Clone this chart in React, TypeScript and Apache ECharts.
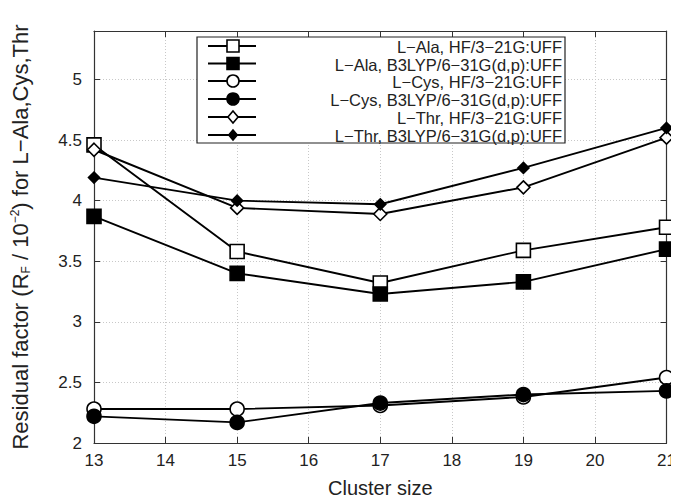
import React, { useEffect, useRef } from "react";
import * as echarts from "echarts";

const clusterSizes = [13, 15, 17, 19, 21];
const alaHF = [4.46, 3.58, 3.32, 3.59, 3.78];
const alaB3 = [3.87, 3.40, 3.23, 3.33, 3.60];
const cysHF = [2.28, 2.28, 2.31, 2.38, 2.54];
const cysB3 = [2.22, 2.17, 2.33, 2.40, 2.43];
const thrHF = [4.42, 3.94, 3.89, 4.11, 4.52];
const thrB3 = [4.19, 4.00, 3.97, 4.27, 4.60];

const seriesNames = [
  "L\u2212Ala, HF/3\u221221G:UFF",
  "L\u2212Ala, B3LYP/6\u221231G(d,p):UFF",
  "L\u2212Cys, HF/3\u221221G:UFF",
  "L\u2212Cys, B3LYP/6\u221231G(d,p):UFF",
  "L\u2212Thr, HF/3\u221221G:UFF",
  "L\u2212Thr, B3LYP/6\u221231G(d,p):UFF",
];

const FONT = "'Liberation Sans', Arial, sans-serif";

type Mk = { symbol: string; size: number; filled: boolean };
const markers: Mk[] = [
  { symbol: "rect", size: 14, filled: false },
  { symbol: "rect", size: 14, filled: true },
  { symbol: "circle", size: 14, filled: false },
  { symbol: "circle", size: 14, filled: true },
  { symbol: "diamond", size: 13, filled: false },
  { symbol: "diamond", size: 11, filled: true },
];

export default function App() {
  const ref = useRef<HTMLDivElement>(null);
  useEffect(() => {
    if (!ref.current) return;
    const chart = echarts.init(ref.current, null, { renderer: "svg" });
    const datasets = [alaHF, alaB3, cysHF, cysB3, thrHF, thrB3];

    const series: any[] = datasets.map((d, i) => ({
      name: seriesNames[i],
      type: "line",
      data: d.map((v, j) => [clusterSizes[j], v]),
      symbol: markers[i].symbol,
      symbolSize: markers[i].size,
      showAllSymbol: true,
      lineStyle: { color: "#000", width: 1.9 },
      itemStyle: {
        color: markers[i].filled ? "#000" : "#fff",
        borderColor: "#000",
        borderWidth: 1.6,
      },
      z: 3,
    }));

    // Legend drawn with graphic
    const lgLeft = 197, lgTop = 37, lgW = 368, lgH = 106;
    const rowY = [46, 63.5, 81, 99, 117, 135];
    const elems: any[] = [
      {
        type: "rect",
        shape: { x: lgLeft, y: lgTop, width: lgW, height: lgH },
        style: { fill: "#fff", stroke: "#222", lineWidth: 1.2 },
        z: 10,
      },
    ];
    rowY.forEach((y, i) => {
      elems.push({
        type: "line",
        shape: { x1: 208, y1: y, x2: 256, y2: y },
        style: { stroke: "#000", lineWidth: 1.9 },
        z: 11,
      });
      const m = markers[i];
      const fill = m.filled ? "#000" : "#fff";
      const cx = 233;
      if (m.symbol === "rect") {
        const s = m.size - 2;
        elems.push({
          type: "rect",
          shape: { x: cx - s / 2, y: y - s / 2, width: s, height: s },
          style: { fill, stroke: "#000", lineWidth: 1.6 },
          z: 12,
        });
      } else if (m.symbol === "circle") {
        elems.push({
          type: "circle",
          shape: { cx, cy: y, r: (m.size - 2) / 2 },
          style: { fill, stroke: "#000", lineWidth: 1.6 },
          z: 12,
        });
      } else {
        const h = (m.size - 1) / 2;
        elems.push({
          type: "polygon",
          shape: {
            points: [
              [cx, y - h],
              [cx + h * 0.85, y],
              [cx, y + h],
              [cx - h * 0.85, y],
            ],
          },
          style: { fill, stroke: "#000", lineWidth: 1.6 },
          z: 12,
        });
      }
      elems.push({
        type: "text",
        style: {
          text: seriesNames[i],
          x: 562,
          y: y + 1,
          align: "right",
          verticalAlign: "middle",
          fontFamily: FONT,
          fontSize: 16.5,
          lineHeight: 17,
          fill: "#222",
        },
        z: 12,
      });
    });

    const option: any = {
      animation: false,
      backgroundColor: "#fff",
      grid: { left: 94, right: 12, top: 31, bottom: 56, containLabel: false },
      xAxis: [
        {
          type: "value",
          min: 13,
          max: 21,
          interval: 1,
          name: "Cluster size",
          nameLocation: "middle",
          nameGap: 35,
          nameTextStyle: { fontFamily: FONT, fontSize: 20, color: "#222" },
          axisLine: { lineStyle: { color: "#333", width: 1.2 } },
          axisTick: { inside: true, length: 6, lineStyle: { color: "#333" } },
          axisLabel: { fontFamily: FONT, fontSize: 17, color: "#222", margin: 9 },
          splitLine: { show: true, lineStyle: { color: "#c8c8c8", type: [1, 2], width: 1 } },
        },
        {
          type: "value",
          position: "top",
          min: 13,
          max: 21,
          interval: 1,
          axisLine: { show: true, lineStyle: { color: "#333", width: 1.2 } },
          axisTick: { inside: true, length: 6, lineStyle: { color: "#333" } },
          axisLabel: { show: false },
          splitLine: { show: false },
        },
      ],
      yAxis: [
        {
          type: "value",
          min: 2,
          max: 5.4,
          interval: 0.5,
          name: "{n|Residual factor (R}{s|F}{n| / 10}{p|\u22122}{n|) for L\u2212Ala,Cys,Thr}",
          nameLocation: "middle",
          nameGap: 62,
          nameRotate: 90,
          nameTextStyle: {
            rich: {
              n: { fontFamily: FONT, fontSize: 22, color: "#222" },
              s: { fontFamily: FONT, fontSize: 12, color: "#222", verticalAlign: "bottom", padding: [9, 0, 0, 0] },
              p: { fontFamily: FONT, fontSize: 12, color: "#222", verticalAlign: "top", padding: [0, 0, 11, 0] },
            },
          },
          axisLine: { show: true, lineStyle: { color: "#333", width: 1.2 } },
          axisTick: { inside: true, length: 6, lineStyle: { color: "#333" } },
          axisLabel: {
            fontFamily: FONT,
            fontSize: 17,
            color: "#222",
            margin: 12,
            showMaxLabel: false,
            formatter: (v: number) => String(v),
          },
          splitLine: { show: true, lineStyle: { color: "#c8c8c8", type: [1, 2], width: 1 } },
        },
        {
          type: "value",
          position: "right",
          min: 2,
          max: 5.4,
          interval: 0.5,
          axisLine: { show: true, lineStyle: { color: "#333", width: 1.2 } },
          axisTick: { inside: true, length: 6, lineStyle: { color: "#333" } },
          axisLabel: { show: false },
          splitLine: { show: false },
        },
      ],
      series,
      graphic: elems,
    };
    chart.setOption(option);
    return () => chart.dispose();
  }, []);
  return <div ref={ref} style={{ width: 679, height: 503, margin: -8 }} />;
}
